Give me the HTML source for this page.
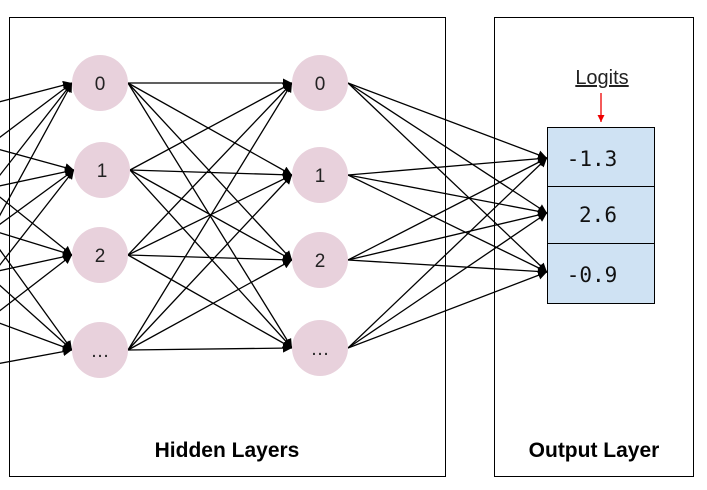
<!DOCTYPE html>
<html><head><style>body{margin:0;background:#fff}svg{display:block}</style></head><body>
<svg width="707" height="490" viewBox="0 0 707 490" xmlns="http://www.w3.org/2000/svg">
<defs><marker id="a" viewBox="0 0 10 10" refX="10" refY="5" markerWidth="9" markerHeight="9" markerUnits="userSpaceOnUse" orient="auto"><path d="M0,0L10,5L0,10z" fill="#000"/></marker>
<marker id="r" viewBox="0 0 10 10" refX="10" refY="5" markerWidth="7" markerHeight="7" markerUnits="userSpaceOnUse" orient="auto"><path d="M0,0L10,5L0,10z" fill="#e00"/></marker></defs>
<rect x="9.5" y="17.5" width="436" height="459" fill="none" stroke="#000" stroke-width="1"/>
<rect x="494.5" y="17.5" width="199" height="459" fill="none" stroke="#000" stroke-width="1"/>
<g stroke="#000" stroke-width="1.3" marker-end="url(#a)">
<line x1="-90" y1="125" x2="72" y2="83"/><line x1="-90" y1="125" x2="74" y2="170"/><line x1="-90" y1="125" x2="72" y2="255"/><line x1="-90" y1="125" x2="72" y2="350"/>
<line x1="-90" y1="205" x2="72" y2="83"/><line x1="-90" y1="205" x2="74" y2="170"/><line x1="-90" y1="205" x2="72" y2="255"/><line x1="-90" y1="205" x2="72" y2="350"/>
<line x1="-90" y1="290" x2="72" y2="83"/><line x1="-90" y1="290" x2="74" y2="170"/><line x1="-90" y1="290" x2="72" y2="255"/><line x1="-90" y1="290" x2="72" y2="350"/>
<line x1="-90" y1="380" x2="72" y2="83"/><line x1="-90" y1="380" x2="74" y2="170"/><line x1="-90" y1="380" x2="72" y2="255"/><line x1="-90" y1="380" x2="72" y2="350"/>

<line x1="128" y1="83" x2="292" y2="83"/><line x1="128" y1="83" x2="292" y2="175"/><line x1="128" y1="83" x2="292" y2="260"/><line x1="128" y1="83" x2="292" y2="348"/>
<line x1="130" y1="170" x2="292" y2="83"/><line x1="130" y1="170" x2="292" y2="175"/><line x1="130" y1="170" x2="292" y2="260"/><line x1="130" y1="170" x2="292" y2="348"/>
<line x1="128" y1="255" x2="292" y2="83"/><line x1="128" y1="255" x2="292" y2="175"/><line x1="128" y1="255" x2="292" y2="260"/><line x1="128" y1="255" x2="292" y2="348"/>
<line x1="128" y1="350" x2="292" y2="83"/><line x1="128" y1="350" x2="292" y2="175"/><line x1="128" y1="350" x2="292" y2="260"/><line x1="128" y1="350" x2="292" y2="348"/>

<line x1="348" y1="83" x2="547" y2="158"/><line x1="348" y1="83" x2="547" y2="213"/><line x1="348" y1="83" x2="547" y2="272"/>
<line x1="348" y1="175" x2="547" y2="158"/><line x1="348" y1="175" x2="547" y2="213"/><line x1="348" y1="175" x2="547" y2="272"/>
<line x1="348" y1="260" x2="547" y2="158"/><line x1="348" y1="260" x2="547" y2="213"/><line x1="348" y1="260" x2="547" y2="272"/>
<line x1="348" y1="348" x2="547" y2="158"/><line x1="348" y1="348" x2="547" y2="213"/><line x1="348" y1="348" x2="547" y2="272"/>
</g>
<g fill="#e8d1dc">
<circle cx="100" cy="83" r="28"/><circle cx="102" cy="170" r="28"/><circle cx="100" cy="255" r="28"/><circle cx="100" cy="350" r="28"/>
<circle cx="320" cy="83" r="28"/><circle cx="320" cy="175" r="28"/><circle cx="320" cy="260" r="28"/><circle cx="320" cy="348" r="28"/>
</g>
<g font-family="Liberation Sans, sans-serif" font-size="19" text-anchor="middle" fill="#222">
<text x="100" y="90">0</text><text x="102" y="177">1</text><text x="100" y="262">2</text><text x="100" y="357">…</text>
<text x="320" y="90">0</text><text x="320" y="182">1</text><text x="320" y="267">2</text><text x="320" y="355">…</text>
</g>
<g fill="#cfe2f3" stroke="#000" stroke-width="1">
<rect x="547.5" y="127.5" width="107" height="59"/><rect x="547.5" y="186.5" width="107" height="57"/><rect x="547.5" y="243.5" width="107" height="60"/>
</g>
<g font-family="DejaVu Sans Mono, monospace" font-size="21" text-anchor="middle" fill="#111">
<text x="592" y="166">-1.3</text><text x="598" y="222">2.6</text><text x="592" y="282">-0.9</text>
</g>
<text x="602" y="84" font-family="Liberation Sans, sans-serif" font-size="20" text-anchor="middle" text-decoration="underline" fill="#222">Logits</text>
<line x1="601" y1="93" x2="601" y2="122" stroke="#e00" stroke-width="1.3" marker-end="url(#r)"/>
<g font-family="Liberation Sans, sans-serif" font-size="21" font-weight="bold" text-anchor="middle" fill="#000">
<text x="227" y="457">Hidden Layers</text><text x="594" y="457">Output Layer</text>
</g>
</svg>
</body></html>
